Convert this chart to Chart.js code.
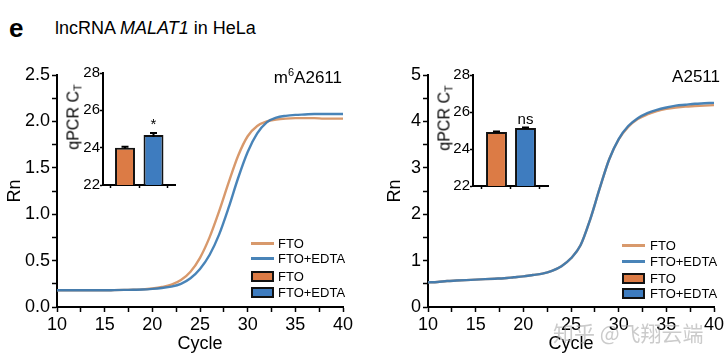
<!DOCTYPE html>
<html><head><meta charset="utf-8">
<script src="https://cdn.jsdelivr.net/npm/chart.js@4.4.0/dist/chart.umd.min.js"></script>
<style>
body{margin:0;background:#fff;width:727px;height:364px;overflow:hidden;position:relative;font-family:"Liberation Sans",Arial,sans-serif;color:#000;}
.abs{position:absolute;white-space:nowrap;}
.vc{transform:translateY(-50%);}
canvas{position:absolute;}
.rot{transform:translate(-50%,-50%) rotate(-90deg);font-size:16px;}
.rot sub{font-size:11px;vertical-align:-3px;}
.lg{font-size:13px;}
.ln{position:absolute;height:3px;}
.bx{position:absolute;box-sizing:border-box;border:2px solid #111;}
</style></head><body>
<div class="abs vc" style="left:9px;top:28px;font-weight:bold;font-size:26px;">e</div>
<div class="abs vc" style="left:55px;top:28px;font-size:18px;">lncRNA <i>MALAT1</i> in HeLa</div>

<canvas id="mainL" width="360" height="364" style="left:0;top:0"></canvas>
<canvas id="mainR" width="347" height="364" style="left:380px;top:0"></canvas>
<canvas id="insL" width="125" height="140" style="left:60px;top:60px"></canvas>
<canvas id="insR" width="128" height="139" style="left:430px;top:62px"></canvas>

<div class="abs vc" style="right:385px;top:77px;font-size:17px;">m<sup style="font-size:11px">6</sup>A2611</div>
<div class="abs vc" style="right:7px;top:77px;font-size:17px;">A2511</div>

<div class="abs rot" style="left:74px;top:117px;">qPCR C<sub>T</sub></div>
<div class="abs rot" style="left:445px;top:118px;">qPCR C<sub>T</sub></div>

<div id="legL"></div>
<div id="legR"></div>

<div class="abs vc" style="left:553px;top:332px;font-size:21px;font-family:'Noto Sans CJK SC';color:rgba(160,160,160,0.55);">知乎 @飞翔云端</div>

<script>
// ---- data ----
const cycles = [10,11,12,13,14,15,16,17,18,19,20,21,22,23,24,25,26,27,28,29,30,31,32,33,34,35,36,37,38,39,40];
const leftFTO  = [0.18,0.18,0.18,0.18,0.18,0.18,0.182,0.184,0.186,0.19,0.20,0.215,0.24,0.29,0.38,0.53,0.75,1.03,1.34,1.63,1.84,1.95,2.00,2.02,2.03,2.035,2.035,2.035,2.03,2.03,2.03];
const leftEDTA = [0.18,0.18,0.18,0.18,0.18,0.18,0.182,0.184,0.186,0.188,0.195,0.205,0.22,0.25,0.31,0.41,0.56,0.78,1.07,1.39,1.67,1.87,1.99,2.04,2.06,2.07,2.075,2.08,2.08,2.08,2.08];
const rightFTO  = [0.53,0.54,0.56,0.57,0.58,0.59,0.60,0.61,0.62,0.64,0.66,0.69,0.72,0.78,0.88,1.05,1.33,1.88,2.55,3.18,3.61,3.88,4.05,4.15,4.22,4.27,4.30,4.32,4.33,4.34,4.35];
const rightEDTA = [0.53,0.54,0.56,0.57,0.58,0.59,0.60,0.61,0.62,0.64,0.66,0.69,0.72,0.78,0.88,1.05,1.33,1.88,2.55,3.18,3.62,3.90,4.07,4.18,4.25,4.30,4.34,4.36,4.38,4.39,4.40];
const groups = ['FTO','FTO+EDTA'];
const leftCt = [24.0, 24.68];
const leftCtErr = [0.05, 0.1];
const rightCt = [24.92, 25.13];
const rightCtErr = [0.03, 0.03];
const leftSig = ['', '*'];
const rightSig = ['', 'ns'];
const xTickValues = [10,12.5,15,17.5,20,22.5,25,27.5,30,32.5,35,37.5,40];
const xLabelValues = [10,15,20,25,30,35,40];
const leftYTicks = [0,0.25,0.5,0.75,1,1.25,1.5,1.75,2,2.25,2.5];
const leftYLabels = [0,0.5,1,1.5,2,2.5];
const rightYTicks = [0,0.5,1,1.5,2,2.5,3,3.5,4,4.5,5];
const rightYLabels = [0,1,2,3,4,5];
const insetYTicks = [22,24,26,28];

// ---- styles ----
const lineOrange = '#d8996c';
const lineBlue = 'rgba(58,122,178,0.92)';
const barOrange = '#dc7b45';
const barBlue = '#3e7cbf';
Chart.defaults.font.family = "'Liberation Sans', Arial, sans-serif";
Chart.defaults.color = '#000';

function has(arr, v){ return arr.some(a => Math.abs(a - v) < 1e-6); }

function mainChart(id, fto, edta, yMax, yTicks, yLabels, decimals, yW, rightPad){
  return new Chart(document.getElementById(id), {
    type:'line',
    data:{datasets:[
      {label:'FTO', order:2, data: cycles.map((c,i)=>({x:c,y:fto[i]})), borderColor:lineOrange, borderWidth:2.4, pointRadius:0, cubicInterpolationMode:'monotone', fill:false},
      {label:'FTO+EDTA', order:1, data: cycles.map((c,i)=>({x:c,y:edta[i]})), borderColor:lineBlue, borderWidth:2.4, pointRadius:0, cubicInterpolationMode:'monotone', fill:false}
    ]},
    options:{
      responsive:false, animation:false, devicePixelRatio:1,
      layout:{padding:{top:75,right:rightPad,left:0,bottom:0}},
      plugins:{legend:{display:false}, tooltip:{enabled:false}},
      scales:{
        x:{type:'linear', min:10, max:40,
          afterBuildTicks: s => { s.ticks = xTickValues.map(v=>({value:v})); },
          ticks:{callback: v => has(xLabelValues, v) ? String(v) : '', autoSkip:false, maxRotation:0, padding:2, color:'#000', font:{size:18}},
          grid:{drawOnChartArea:false, drawTicks:true, tickLength:5, tickColor:'#000', tickWidth:1.5},
          border:{color:'#000', width:2},
          title:{display:true, text:'Cycle', color:'#000', font:{size:18}, padding:{top:0,bottom:9}},
          afterFit: s => { s.height = 57; }
        },
        y:{min:0, max:yMax,
          afterBuildTicks: s => { s.ticks = yTicks.map(v=>({value:v})); },
          ticks:{callback: v => has(yLabels, v) ? v.toFixed(decimals) : '', autoSkip:false, padding:2, color:'#000', font:{size:18}},
          grid:{drawOnChartArea:false, drawTicks:true, tickLength:5, tickColor:'#000', tickWidth:1.5},
          border:{color:'#000', width:2},
          title:{display:true, text:'Rn', color:'#000', font:{size:18}, padding:{top:4,bottom:0}},
          afterFit: s => { s.width = yW; }
        }
      }
    }
  });
}

const errPlugin = {
  id:'errbars',
  afterDatasetsDraw(chart, args, opts){
    const ctx = chart.ctx;
    const meta = chart.getDatasetMeta(0);
    const ys = chart.scales.y;
    meta.data.forEach((bar, i) => {
      const v = opts.values[i], e = opts.errs[i];
      const yTop = ys.getPixelForValue(v + e), yBot = ys.getPixelForValue(v - e);
      ctx.save();
      ctx.strokeStyle = '#000'; ctx.lineWidth = 2;
      ctx.beginPath();
      ctx.moveTo(bar.x, yTop); ctx.lineTo(bar.x, yBot);
      ctx.moveTo(bar.x - 3.5, yTop); ctx.lineTo(bar.x + 3.5, yTop);
      ctx.stroke();
      if (opts.sig[i]) {
        ctx.fillStyle = '#000';
        ctx.font = "15px 'Liberation Sans', Arial, sans-serif";
        ctx.textAlign = 'center'; ctx.textBaseline = 'alphabetic';
        ctx.fillText(opts.sig[i], bar.x, yTop - 4);
      }
      ctx.restore();
    });
  }
};

function insetChart(id, values, errs, sig, xmin, xmax, barPct){
  return new Chart(document.getElementById(id), {
    type:'bar',
    data:{datasets:[{label:'Ct', data: values.map((v,i)=>({x:i,y:v})), backgroundColor:[barOrange, barBlue], borderColor:'#111', borderWidth:2, borderSkipped:'start', barPercentage:barPct, categoryPercentage:1}]},
    options:{
      responsive:false, animation:false, devicePixelRatio:1,
      layout:{padding:{top:13,right:10,left:0,bottom:0}},
      plugins:{legend:{display:false}, tooltip:{enabled:false}, errbars:{values, errs, sig}},
      scales:{
        x:{type:'linear', min:xmin, max:xmax, offset:false,
          afterBuildTicks: s => { s.ticks = groups.map((g,i)=>({value:i})); },
          ticks:{callback: () => '', padding:0},
          grid:{drawOnChartArea:false, drawTicks:true, tickLength:3, tickColor:'#000', tickWidth:1.5},
          border:{color:'#000', width:2},
          afterFit: s => { s.height = 15; }
        },
        y:{min:22, max:28,
          afterBuildTicks: s => { s.ticks = insetYTicks.map(v=>({value:v})); },
          ticks:{color:'#000', font:{size:15}, padding:0},
          grid:{drawOnChartArea:false, drawTicks:true, tickLength:3, tickColor:'#000', tickWidth:1.5},
          border:{color:'#000', width:2},
          afterFit: s => { s.width = 43; }
        }
      }
    },
    plugins:[errPlugin]
  });
}

mainChart('mainL', leftFTO, leftEDTA, 2.5, leftYTicks, leftYLabels, 1, 57, 17);
mainChart('mainR', rightFTO, rightEDTA, 5, rightYTicks, rightYLabels, 0, 48, 13);
insetChart('insL', leftCt, leftCtErr, leftSig, -0.772, 1.754, 0.70);
insetChart('insR', rightCt, rightCtErr, rightSig, -0.81, 1.776, 0.72);

// ---- HTML legends ----
function legend(elId, x, tx, ys){
  const el = document.getElementById(elId);
  const items = [
    {kind:'line', color:lineOrange, label:groups[0]},
    {kind:'line', color:lineBlue, label:groups[1]},
    {kind:'box', color:barOrange, label:groups[0]},
    {kind:'box', color:barBlue, label:groups[1]}
  ];
  let html = '';
  items.forEach((it, i) => {
    const y = ys[i];
    if (it.kind === 'line') html += `<div class="ln" style="left:${x}px;top:${y-1.5}px;width:23px;background:${it.color}"></div>`;
    else html += `<div class="bx" style="left:${x}px;top:${y-5.5}px;width:23px;height:11px;background:${it.color}"></div>`;
    html += `<div class="abs vc lg" style="left:${tx}px;top:${y}px;">${it.label}</div>`;
  });
  el.innerHTML = html;
}
legend('legL', 251, 278, [243, 258, 276, 292]);
legend('legR', 622, 650, [245, 261, 278, 293]);
</script>
</body></html>
